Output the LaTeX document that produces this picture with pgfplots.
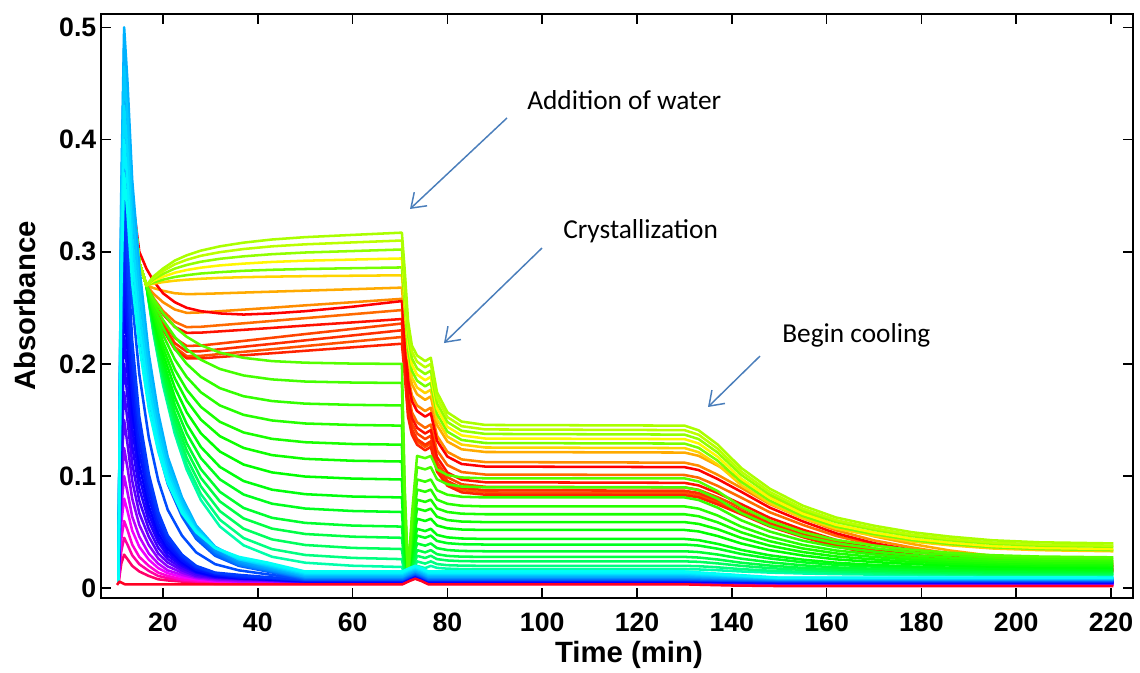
\documentclass[border=0pt]{standalone}
\usepackage{pgfplots}
\usepackage{pgfplotstable}
\pgfplotsset{compat=1.18}
\usetikzlibrary{arrows.meta}
\usepackage{fontspec}
\setmainfont{Liberation Sans}
\newfontfamily\calibri{Carlito}

\definecolor{arrowblue}{RGB}{74,126,187}
% upper yellow-green group
\definecolor{cu1}{Hsb}{80,1,1}
\definecolor{cu2}{Hsb}{76,1,1}
\definecolor{cu3}{Hsb}{86,1,1}
\definecolor{cu4}{Hsb}{58,1,1}
\definecolor{cu5}{Hsb}{92,1,1}
\definecolor{cu6}{Hsb}{50,1,1}
% orange / red group
\definecolor{cr1}{Hsb}{40,1,1}
\definecolor{cr2}{Hsb}{0,1,1}
\definecolor{cr3}{Hsb}{33,1,1}
\definecolor{cr4}{Hsb}{25,1,1}
\definecolor{cr5}{Hsb}{4,1,1}
\definecolor{cr6}{Hsb}{16,1,1}
\definecolor{cr7}{Hsb}{11,1,1}
\definecolor{cr8}{Hsb}{19,1,1}
\definecolor{cr9}{Hsb}{8,1,1}
% lower green group
\definecolor{cg1}{Hsb}{100,1,1}
\definecolor{cg2}{Hsb}{104,1,1}
\definecolor{cg3}{Hsb}{108,1,1}
\definecolor{cg4}{Hsb}{111,1,1}
\definecolor{cg5}{Hsb}{114,1,1}
\definecolor{cg6}{Hsb}{117,1,1}
\definecolor{cg7}{Hsb}{120,1,1}
\definecolor{cg8}{Hsb}{123,1,1}
\definecolor{cg9}{Hsb}{127,1,1}
\definecolor{cg10}{Hsb}{131,1,1}
\definecolor{cg11}{Hsb}{136,1,1}
\definecolor{cg12}{Hsb}{142,1,1}
\definecolor{cg13}{Hsb}{150,1,1}
\definecolor{cg14}{Hsb}{160,1,1}
% blue spike group
\definecolor{cb1}{Hsb}{335,1,1}
\definecolor{cb2}{Hsb}{310,1,1}
\definecolor{cb3}{Hsb}{285,1,1}
\definecolor{cb4}{Hsb}{262,1,1}
\definecolor{cb5}{Hsb}{248,1,1}
\definecolor{cb6}{Hsb}{240,1,1}
\definecolor{cb7}{Hsb}{233,1,1}
\definecolor{cb8}{Hsb}{226,1,1}
\definecolor{cb9}{Hsb}{219,1,1}
\definecolor{cb10}{Hsb}{212,1,1}
\definecolor{cb11}{Hsb}{205,1,1}
\definecolor{cb12}{Hsb}{198,1,1}
\definecolor{cb13}{Hsb}{188,1,1}
\definecolor{cb14}{Hsb}{178,1,1}
\definecolor{cm1}{Hsb}{322,1,1}
\definecolor{cm2}{Hsb}{297,1,1}
\definecolor{cm3}{Hsb}{273,1,1}
\definecolor{cm4}{Hsb}{255,1,1}
\definecolor{cm5}{Hsb}{244,1,1}
\definecolor{cm6}{Hsb}{236,1,1}
\definecolor{cm7}{Hsb}{229,1,1}
\definecolor{cm8}{Hsb}{222,1,1}
\definecolor{cm9}{Hsb}{215,1,1}
\definecolor{cm10}{Hsb}{208,1,1}
\definecolor{cm11}{Hsb}{201,1,1}
\definecolor{cm12}{Hsb}{193,1,1}
\definecolor{cm13}{Hsb}{183,1,1}
\definecolor{cbase}{Hsb}{352,1,1}

\pgfplotstableread{
x u1 u2 u3 u4 u5 u6
10.6 0.004 0.004 0.004 0.004 0.004 0.004
11.8 0.44 0.44 0.44 0.44 0.44 0.44
13.5 0.35 0.35 0.35 0.35 0.35 0.35
15 0.29 0.29 0.29 0.29 0.29 0.29
16.5 0.27 0.27 0.27 0.27 0.27 0.27
18 0.2780 0.2768 0.2754 0.2741 0.2727 0.2715
20 0.2850 0.2828 0.2802 0.2777 0.2751 0.2729
22.5 0.2921 0.2888 0.2850 0.2813 0.2775 0.2742
25 0.2968 0.2928 0.2882 0.2837 0.2791 0.2751
28 0.3010 0.2964 0.2911 0.2858 0.2806 0.2759
32 0.3048 0.2996 0.2937 0.2878 0.2818 0.2767
37 0.3081 0.3024 0.2959 0.2894 0.2830 0.2773
43 0.3109 0.3048 0.2978 0.2909 0.2839 0.2778
50 0.3130 0.3066 0.2993 0.2920 0.2846 0.2782
60 0.3150 0.3083 0.3006 0.2930 0.2853 0.2786
70.4 0.317 0.310 0.302 0.294 0.286 0.279
71.0 0.2833 0.2767 0.2693 0.2620 0.2548 0.2481
71.7 0.2383 0.2323 0.2257 0.2194 0.2132 0.2069
72.5 0.2165 0.2110 0.2050 0.1995 0.1940 0.1880
73.6 0.2075 0.2020 0.1960 0.1905 0.1850 0.1790
75.3 0.2025 0.1970 0.1910 0.1855 0.1800 0.1740
76.5 0.2055 0.2000 0.1940 0.1885 0.1830 0.1770
77.8 0.1748 0.1700 0.1650 0.1603 0.1555 0.1505
80 0.1569 0.1526 0.1482 0.1439 0.1396 0.1352
83 0.1486 0.1445 0.1404 0.1363 0.1322 0.1281
88 0.1456 0.1416 0.1376 0.1335 0.1295 0.1255
130 0.145 0.141 0.137 0.133 0.129 0.125
133 0.1408 0.1369 0.1330 0.1291 0.1252 0.1213
137 0.1282 0.1245 0.1210 0.1173 0.1138 0.1103
142 0.1072 0.1039 0.1010 0.0977 0.0948 0.0919
148 0.0888 0.0859 0.0835 0.0806 0.0782 0.0758
155 0.0736 0.0710 0.0690 0.0664 0.0644 0.0624
162 0.0631 0.0607 0.0590 0.0566 0.0549 0.0532
170 0.0558 0.0535 0.0520 0.0497 0.0483 0.0468
178 0.0500 0.0478 0.0465 0.0443 0.0430 0.0417
186 0.0461 0.0440 0.0428 0.0407 0.0395 0.0383
195 0.0428 0.0408 0.0397 0.0376 0.0366 0.0355
205 0.0410 0.0390 0.0380 0.0360 0.0350 0.0340
220.5 0.040 0.038 0.037 0.035 0.034 0.033
}\tabU

\pgfplotstableread{
x r1 r2 r3 r4 r5 r6 r7 r8 r9
10.6 0.004 0.004 0.004 0.004 0.004 0.004 0.004 0.004 0.004
11.8 0.44 0.44 0.44 0.44 0.44 0.44 0.44 0.44 0.44
13.5 0.35 0.35 0.35 0.35 0.35 0.35 0.35 0.35 0.35
15 0.29 0.30 0.29 0.29 0.29 0.29 0.29 0.29 0.29
16.5 0.27 0.285 0.27 0.27 0.27 0.27 0.27 0.27 0.27
18 0.2676 0.274 0.2625 0.2586 0.2571 0.2535 0.2520 0.2508 0.2502
20 0.2652 0.263 0.2550 0.2472 0.2442 0.2370 0.2340 0.2316 0.2304
22.5 0.2630 0.255 0.2485 0.2375 0.2330 0.2230 0.2185 0.2150 0.2130
25 0.2622 0.250 0.2455 0.2328 0.2277 0.2160 0.2110 0.2070 0.2050
28 0.2624 0.247 0.2459 0.2331 0.2279 0.2164 0.2113 0.2072 0.2049
32 0.2629 0.245 0.2470 0.2345 0.2290 0.2182 0.2131 0.2088 0.2062
37 0.2636 0.244 0.2484 0.2362 0.2304 0.2205 0.2153 0.2108 0.2077
43 0.2644 0.245 0.2501 0.2383 0.2321 0.2233 0.2179 0.2131 0.2095
50 0.2653 0.247 0.2522 0.2408 0.2342 0.2266 0.2210 0.2159 0.2117
60 0.2666 0.251 0.2550 0.2443 0.2370 0.2312 0.2254 0.2199 0.2148
70.4 0.268 0.256 0.258 0.248 0.240 0.236 0.230 0.224 0.218
71.0 0.2386 0.2257 0.2286 0.2171 0.2100 0.2057 0.2000 0.1952 0.1901
71.7 0.1994 0.1853 0.1894 0.1759 0.1700 0.1653 0.1600 0.1568 0.1529
72.5 0.182 0.167 0.172 0.157 0.152 0.147 0.142 0.140 0.137
73.6 0.173 0.158 0.163 0.148 0.143 0.138 0.133 0.131 0.128
75.3 0.168 0.153 0.158 0.143 0.138 0.133 0.128 0.126 0.123
76.5 0.171 0.156 0.161 0.146 0.141 0.136 0.131 0.129 0.126
77.8 0.1455 0.1315 0.1360 0.1230 0.1170 0.1125 0.1085 0.1065 0.1040
80 0.1308 0.1174 0.1216 0.1098 0.1032 0.0990 0.0956 0.0936 0.0914
83 0.1239 0.1108 0.1149 0.1036 0.0968 0.0927 0.0896 0.0876 0.0855
88 0.1215 0.1085 0.1125 0.1014 0.0945 0.0905 0.0874 0.0854 0.0834
130 0.121 0.108 0.112 0.101 0.094 0.090 0.087 0.085 0.083
133 0.1181 0.1054 0.1093 0.0986 0.0917 0.0878 0.0849 0.0829 0.0810
137 0.1094 0.0974 0.1012 0.0913 0.0849 0.0812 0.0785 0.0767 0.0748
142 0.0968 0.0860 0.0895 0.0808 0.0750 0.0718 0.0693 0.0678 0.0660
148 0.0812 0.0719 0.0751 0.0678 0.0628 0.0601 0.0579 0.0567 0.0551
155 0.0677 0.0596 0.0625 0.0565 0.0522 0.0499 0.0480 0.0471 0.0456
162 0.0560 0.0490 0.0517 0.0467 0.0431 0.0411 0.0394 0.0388 0.0374
170 0.0463 0.0402 0.0427 0.0386 0.0355 0.0338 0.0323 0.0319 0.0306
178 0.0395 0.0341 0.0364 0.0330 0.0302 0.0287 0.0274 0.0270 0.0259
186 0.0337 0.0288 0.0310 0.0281 0.0256 0.0243 0.0231 0.0229 0.0218
195 0.0289 0.0244 0.0265 0.0240 0.0218 0.0207 0.0196 0.0195 0.0184
205 0.0259 0.0218 0.0238 0.0216 0.0195 0.0185 0.0174 0.0174 0.0164
220.5 0.024 0.020 0.022 0.020 0.018 0.017 0.016 0.016 0.015
}\tabR

\pgfplotstableread{
x g1 g2 g3 g4 g5 g6 g7 g8 g9 g10 g11 g12 g13 g14
10.6 0.004 0.004 0.004 0.004 0.004 0.004 0.004 0.004 0.004 0.004 0.004 0.004 0.004 0.004
11.8 0.44 0.44 0.44 0.44 0.44 0.44 0.44 0.44 0.44 0.44 0.44 0.44 0.44 0.44
13.5 0.35 0.35 0.35 0.35 0.35 0.35 0.35 0.35 0.35 0.35 0.35 0.35 0.35 0.35
15 0.29 0.29 0.29 0.29 0.29 0.29 0.29 0.29 0.29 0.29 0.29 0.29 0.29 0.29
16.5 0.27 0.27 0.27 0.27 0.27 0.27 0.27 0.27 0.27 0.27 0.27 0.27 0.27 0.27
18 0.2580 0.2551 0.2517 0.2486 0.2457 0.2432 0.2404 0.2377 0.2355 0.2332 0.2315 0.2298 0.2283 0.2271
20 0.2452 0.2392 0.2321 0.2258 0.2197 0.2144 0.2088 0.2031 0.1985 0.1939 0.1904 0.1868 0.1836 0.1811
22.5 0.2330 0.2241 0.2135 0.2040 0.1950 0.1871 0.1787 0.1702 0.1633 0.1565 0.1512 0.1459 0.1412 0.1375
25 0.2242 0.2131 0.2000 0.1883 0.1771 0.1673 0.1569 0.1464 0.1379 0.1294 0.1229 0.1163 0.1104 0.1058
28 0.2166 0.2037 0.1884 0.1747 0.1617 0.1503 0.1381 0.1259 0.1160 0.1061 0.0984 0.0908 0.0840 0.0786
32 0.2101 0.1955 0.1784 0.1630 0.1484 0.1356 0.1219 0.1082 0.0971 0.0860 0.0774 0.0688 0.0611 0.0551
37 0.2054 0.1897 0.1712 0.1546 0.1389 0.1251 0.1103 0.0956 0.0836 0.0716 0.0623 0.0531 0.0448 0.0383
43 0.2025 0.1862 0.1669 0.1496 0.1332 0.1187 0.1033 0.0879 0.0754 0.0628 0.0532 0.0436 0.0349 0.0281
50 0.2011 0.1843 0.1646 0.1469 0.1302 0.1154 0.0996 0.0839 0.0711 0.0583 0.0484 0.0386 0.0297 0.0228
60 0.2003 0.1834 0.1635 0.1456 0.1286 0.1137 0.0978 0.0818 0.0689 0.0559 0.0460 0.0360 0.0271 0.0201
70.4 0.200 0.183 0.163 0.145 0.128 0.113 0.097 0.081 0.068 0.055 0.045 0.035 0.026 0.019
71.0 0.0900 0.0824 0.0734 0.0653 0.0576 0.0509 0.0437 0.0365 0.0306 0.0248 0.0203 0.0158 0.0125 0.0120
71.7 0.012 0.012 0.012 0.012 0.012 0.012 0.012 0.012 0.012 0.012 0.012 0.012 0.012 0.012
72.5 0.0649 0.0594 0.0534 0.0484 0.0435 0.0391 0.0341 0.0292 0.0259 0.0220 0.0187 0.0160 0.0132 0.0120
73.6 0.118 0.108 0.097 0.088 0.079 0.071 0.062 0.053 0.047 0.040 0.034 0.029 0.024 0.020
75.3 0.116 0.106 0.095 0.086 0.077 0.069 0.060 0.051 0.045 0.038 0.032 0.027 0.022 0.018
76.5 0.118 0.108 0.097 0.088 0.079 0.071 0.062 0.053 0.047 0.040 0.034 0.029 0.024 0.020
77.8 0.1060 0.0972 0.0874 0.0790 0.0712 0.0638 0.0560 0.0476 0.0422 0.0358 0.0304 0.0260 0.0216 0.0182
80 0.1010 0.0927 0.0834 0.0753 0.0680 0.0608 0.0535 0.0454 0.0402 0.0341 0.0289 0.0248 0.0206 0.0175
83 0.0988 0.0907 0.0816 0.0736 0.0665 0.0595 0.0524 0.0444 0.0393 0.0333 0.0282 0.0242 0.0202 0.0171
88 0.098 0.090 0.081 0.073 0.066 0.059 0.052 0.044 0.039 0.033 0.028 0.024 0.020 0.017
130 0.098 0.090 0.081 0.073 0.066 0.059 0.052 0.044 0.039 0.033 0.028 0.024 0.020 0.017
133 0.0952 0.0874 0.0787 0.0710 0.0642 0.0574 0.0507 0.0429 0.0381 0.0323 0.0274 0.0236 0.0197 0.0168
137 0.0867 0.0798 0.0719 0.0649 0.0588 0.0527 0.0466 0.0396 0.0353 0.0301 0.0257 0.0222 0.0187 0.0161
142 0.0727 0.0670 0.0606 0.0549 0.0499 0.0449 0.0399 0.0342 0.0306 0.0264 0.0228 0.0200 0.0171 0.0150
148 0.0603 0.0558 0.0506 0.0460 0.0420 0.0380 0.0340 0.0294 0.0266 0.0232 0.0203 0.0180 0.0157 0.0140
155 0.0501 0.0465 0.0424 0.0387 0.0355 0.0323 0.0292 0.0255 0.0232 0.0205 0.0182 0.0164 0.0146 0.0132
162 0.0431 0.0401 0.0367 0.0337 0.0311 0.0284 0.0258 0.0228 0.0209 0.0186 0.0168 0.0153 0.0138 0.0126
170 0.0382 0.0356 0.0327 0.0302 0.0279 0.0257 0.0234 0.0209 0.0193 0.0174 0.0158 0.0145 0.0132 0.0122
178 0.0343 0.0321 0.0296 0.0274 0.0255 0.0235 0.0216 0.0194 0.0180 0.0163 0.0150 0.0139 0.0128 0.0119
186 0.0317 0.0297 0.0275 0.0255 0.0238 0.0221 0.0203 0.0184 0.0171 0.0157 0.0144 0.0134 0.0125 0.0117
195 0.0295 0.0277 0.0257 0.0240 0.0224 0.0209 0.0193 0.0175 0.0164 0.0151 0.0140 0.0131 0.0122 0.0116
205 0.0283 0.0266 0.0248 0.0231 0.0216 0.0202 0.0187 0.0171 0.0160 0.0148 0.0137 0.0129 0.0121 0.0115
220.5 0.0276 0.0260 0.0242 0.0226 0.0212 0.0198 0.0184 0.0168 0.0158 0.0146 0.0136 0.0128 0.0120 0.0114
}\tabG

\pgfplotstableread{
x b1 b2 b3 b4 b5 b6 b7 b8 b9 b10 b11 b12 b13 b14
10.6 0.004 0.004 0.004 0.004 0.004 0.004 0.004 0.004 0.004 0.004 0.004 0.004 0.004 0.004
11.2 0.022 0.044 0.072 0.107 0.142 0.177 0.213 0.248 0.283 0.312 0.333 0.355 0.306 0.265
11.8 0.03 0.06 0.10 0.15 0.20 0.25 0.30 0.35 0.40 0.44 0.47 0.50 0.43 0.37
12.5 0.026 0.052 0.086 0.129 0.171 0.214 0.256 0.299 0.361 0.397 0.424 0.452 0.389 0.335
13.5 0.020 0.039 0.064 0.096 0.127 0.158 0.189 0.221 0.291 0.320 0.342 0.364 0.314 0.272
15 0.015 0.028 0.046 0.067 0.089 0.110 0.131 0.153 0.229 0.252 0.269 0.287 0.248 0.216
17 0.011 0.020 0.031 0.046 0.060 0.073 0.088 0.102 0.167 0.183 0.196 0.209 0.182 0.160
19 0.008 0.014 0.022 0.031 0.041 0.049 0.058 0.068 0.124 0.136 0.146 0.156 0.137 0.122
21 0.007 0.011 0.016 0.023 0.029 0.035 0.041 0.047 0.093 0.102 0.109 0.117 0.104 0.094
24 0.006 0.008 0.012 0.016 0.020 0.023 0.027 0.030 0.064 0.070 0.075 0.081 0.073 0.067
27 0.005 0.007 0.009 0.011 0.014 0.015 0.018 0.020 0.044 0.048 0.052 0.056 0.052 0.050
31 0.004 0.006 0.007 0.009 0.010 0.011 0.013 0.014 0.029 0.032 0.034 0.037 0.036 0.036
36 0.004 0.005 0.006 0.008 0.009 0.009 0.010 0.012 0.020 0.021 0.023 0.026 0.026 0.028
42 0.004 0.005 0.006 0.007 0.008 0.008 0.009 0.010 0.015 0.016 0.017 0.019 0.021 0.023
50 0.004 0.0045 0.005 0.0055 0.006 0.0065 0.007 0.0075 0.008 0.009 0.010 0.011 0.013 0.015
70.5 0.004 0.0045 0.005 0.0055 0.006 0.0065 0.007 0.0075 0.008 0.009 0.010 0.011 0.013 0.015
72 0.007 0.0075 0.008 0.0085 0.009 0.0095 0.010 0.0105 0.011 0.012 0.013 0.014 0.016 0.018
73.2 0.009 0.0095 0.010 0.0105 0.011 0.0115 0.012 0.0125 0.013 0.014 0.015 0.016 0.018 0.020
74.5 0.007 0.0075 0.008 0.0085 0.009 0.0095 0.010 0.0105 0.011 0.012 0.013 0.014 0.016 0.018
76 0.004 0.0045 0.005 0.0055 0.006 0.0065 0.007 0.0075 0.008 0.009 0.010 0.011 0.013 0.015
130 0.004 0.0045 0.005 0.0055 0.006 0.0065 0.007 0.0075 0.008 0.009 0.010 0.011 0.013 0.015
140 0.0035 0.004 0.0045 0.005 0.0055 0.006 0.0065 0.007 0.0075 0.00825 0.009 0.00975 0.011 0.01225
150 0.003 0.0035 0.004 0.0045 0.005 0.0055 0.006 0.0065 0.007 0.0075 0.008 0.0085 0.009 0.0095
220.5 0.003 0.0035 0.004 0.0045 0.005 0.0055 0.006 0.0065 0.007 0.0075 0.008 0.0085 0.009 0.0095
}\tabB

\pgfplotstableread{
x m1 m2 m3 m4 m5 m6 m7 m8 m9 m10 m11 m12 m13
10.6 0.004 0.004 0.004 0.004 0.004 0.004 0.004 0.004 0.004 0.004 0.004 0.004 0.004
11.2 0.033 0.058 0.0895 0.1245 0.1595 0.195 0.2305 0.2655 0.2975 0.3225 0.344 0.3305 0.2855
11.8 0.045 0.08 0.125 0.175 0.225 0.275 0.325 0.375 0.42 0.455 0.485 0.465 0.40
12.5 0.039 0.069 0.1075 0.15 0.1925 0.235 0.2775 0.33 0.379 0.4105 0.438 0.4205 0.362
13.5 0.0295 0.0515 0.08 0.1115 0.1425 0.1735 0.205 0.256 0.3055 0.331 0.353 0.339 0.293
15 0.0215 0.037 0.0565 0.078 0.0995 0.1205 0.142 0.191 0.2405 0.2605 0.278 0.2675 0.232
17 0.0155 0.0255 0.0385 0.053 0.0665 0.0805 0.095 0.1345 0.175 0.1895 0.2025 0.1955 0.171
19 0.011 0.018 0.0265 0.036 0.045 0.0535 0.063 0.096 0.13 0.141 0.151 0.1465 0.1295
21 0.009 0.0135 0.0195 0.026 0.032 0.038 0.044 0.07 0.0975 0.1055 0.113 0.1105 0.099
24 0.007 0.01 0.014 0.018 0.0215 0.025 0.0285 0.047 0.067 0.0725 0.078 0.077 0.07
27 0.006 0.008 0.01 0.0125 0.0145 0.0165 0.019 0.032 0.046 0.05 0.054 0.054 0.051
31 0.005 0.0065 0.008 0.0095 0.0105 0.012 0.0135 0.0215 0.0305 0.033 0.0355 0.0365 0.036
36 0.0045 0.0055 0.007 0.0085 0.009 0.0095 0.011 0.016 0.0205 0.022 0.0245 0.026 0.027
42 0.0045 0.0055 0.0065 0.0075 0.008 0.0085 0.0095 0.0125 0.0155 0.0165 0.018 0.020 0.022
50 0.00425 0.00475 0.00525 0.00575 0.00625 0.00675 0.00725 0.00775 0.0085 0.0095 0.0105 0.012 0.014
70.5 0.00425 0.00475 0.00525 0.00575 0.00625 0.00675 0.00725 0.00775 0.0085 0.0095 0.0105 0.012 0.014
72 0.00725 0.00775 0.00825 0.00875 0.00925 0.00975 0.01025 0.01075 0.0115 0.0125 0.0135 0.015 0.017
73.2 0.00925 0.00975 0.01025 0.01075 0.01125 0.01175 0.01225 0.01275 0.0135 0.0145 0.0155 0.017 0.019
74.5 0.00725 0.00775 0.00825 0.00875 0.00925 0.00975 0.01025 0.01075 0.0115 0.0125 0.0135 0.015 0.017
76 0.00425 0.00475 0.00525 0.00575 0.00625 0.00675 0.00725 0.00775 0.0085 0.0095 0.0105 0.012 0.014
130 0.00425 0.00475 0.00525 0.00575 0.00625 0.00675 0.00725 0.00775 0.0085 0.0095 0.0105 0.012 0.014
140 0.00375 0.00425 0.00475 0.00525 0.00575 0.00625 0.00675 0.00725 0.007875 0.008625 0.009375 0.010375 0.011625
150 0.00325 0.00375 0.00425 0.00475 0.00525 0.00575 0.00625 0.00675 0.00725 0.00775 0.00825 0.00875 0.00925
220.5 0.00325 0.00375 0.00425 0.00475 0.00525 0.00575 0.00625 0.00675 0.00725 0.00775 0.00825 0.00875 0.00925
}\tabM

\pgfplotstableread{
x y
10.3 0.003
10.8 0.006
12 0.0035
70.5 0.0035
72 0.0065
73.2 0.0085
74.5 0.0065
76 0.0035
130 0.0035
140 0.0025
150 0.002
220.5 0.002
}\tabBase

\begin{document}
\begin{tikzpicture}
\useasboundingbox (-75.75pt,-55.5pt) rectangle (779.25pt,448.5pt);
\begin{axis}[
  at={(0,0)}, anchor=south west,
  scale only axis, width=774pt, height=438pt,
  xmin=6.92, xmax=224.64, ymin=-0.00865, ymax=0.5119,
  xtick={20,40,...,220}, ytick={0,0.1,0.2,0.3,0.4,0.5},
  tick align=inside, major tick length=7.5pt,
  axis line style={line width=1.2pt},
  tick style={line width=1.2pt, black},
  ticklabel style={font=\fontsize{20}{20}\selectfont\bfseries},
  xticklabel style={yshift=-8pt},
  /pgf/number format/assume math mode=true,
  xlabel={Time (min)}, ylabel={Absorbance},
  label style={font=\fontsize{22}{22}\selectfont\bfseries},
  xlabel style={at={(axis description cs:0.5116,-0.110)}, anchor=base},
  ylabel style={at={(axis description cs:-0.0736,0.5)}, anchor=center},
  no markers,
  every axis plot/.append style={line width=1.9pt, line join=round},
]
% orange / red group
\addplot[cr1] table[x=x,y=r1]{\tabR};
\addplot[cr3] table[x=x,y=r3]{\tabR};
\addplot[cr4] table[x=x,y=r4]{\tabR};
\addplot[cr6] table[x=x,y=r6]{\tabR};
\addplot[cr8] table[x=x,y=r8]{\tabR};
\addplot[cr7] table[x=x,y=r7]{\tabR};
\addplot[cr9] table[x=x,y=r9]{\tabR};
\addplot[cr5] table[x=x,y=r5]{\tabR};
\addplot[cr2] table[x=x,y=r2]{\tabR};
% lower green group
\addplot[cg14] table[x=x,y=g14]{\tabG};
\addplot[cg13] table[x=x,y=g13]{\tabG};
\addplot[cg12] table[x=x,y=g12]{\tabG};
\addplot[cg11] table[x=x,y=g11]{\tabG};
\addplot[cg10] table[x=x,y=g10]{\tabG};
\addplot[cg9] table[x=x,y=g9]{\tabG};
\addplot[cg8] table[x=x,y=g8]{\tabG};
\addplot[cg7] table[x=x,y=g7]{\tabG};
\addplot[cg6] table[x=x,y=g6]{\tabG};
\addplot[cg5] table[x=x,y=g5]{\tabG};
\addplot[cg4] table[x=x,y=g4]{\tabG};
\addplot[cg3] table[x=x,y=g3]{\tabG};
\addplot[cg2] table[x=x,y=g2]{\tabG};
\addplot[cg1] table[x=x,y=g1]{\tabG};
% upper yellow-green group
\addplot[cu6] table[x=x,y=u6]{\tabU};
\addplot[cu5] table[x=x,y=u5]{\tabU};
\addplot[cu4] table[x=x,y=u4]{\tabU};
\addplot[cu3] table[x=x,y=u3]{\tabU};
\addplot[cu2] table[x=x,y=u2]{\tabU};
\addplot[cu1] table[x=x,y=u1]{\tabU};
% blue spike group
\addplot[cb1] table[x=x,y=b1]{\tabB};
\addplot[cm1] table[x=x,y=m1]{\tabM};
\addplot[cb2] table[x=x,y=b2]{\tabB};
\addplot[cm2] table[x=x,y=m2]{\tabM};
\addplot[cb3] table[x=x,y=b3]{\tabB};
\addplot[cm3] table[x=x,y=m3]{\tabM};
\addplot[cb4] table[x=x,y=b4]{\tabB};
\addplot[cm4] table[x=x,y=m4]{\tabM};
\addplot[cb5] table[x=x,y=b5]{\tabB};
\addplot[cm5] table[x=x,y=m5]{\tabM};
\addplot[cb6] table[x=x,y=b6]{\tabB};
\addplot[cm6] table[x=x,y=m6]{\tabM};
\addplot[cb7] table[x=x,y=b7]{\tabB};
\addplot[cm7] table[x=x,y=m7]{\tabM};
\addplot[cb8] table[x=x,y=b8]{\tabB};
\addplot[cm8] table[x=x,y=m8]{\tabM};
\addplot[cb9] table[x=x,y=b9]{\tabB};
\addplot[cm9] table[x=x,y=m9]{\tabM};
\addplot[cb10] table[x=x,y=b10]{\tabB};
\addplot[cm10] table[x=x,y=m10]{\tabM};
\addplot[cb11] table[x=x,y=b11]{\tabB};
\addplot[cm11] table[x=x,y=m11]{\tabM};
\addplot[cb12] table[x=x,y=b12]{\tabB};
\addplot[cm12] table[x=x,y=m12]{\tabM};
\addplot[cb13] table[x=x,y=b13]{\tabB};
\addplot[cm13] table[x=x,y=m13]{\tabM};
\addplot[cb14] table[x=x,y=b14]{\tabB};
\addplot[cbase] table[x=x,y=y]{\tabBase};

% annotations
\draw[arrowblue, line width=1.1pt, -{Straight Barb[length=10pt,width=14pt]}]
  (axis cs:92.57,0.4192) -- (axis cs:72.11,0.3381);
\draw[arrowblue, line width=1.1pt, -{Straight Barb[length=10pt,width=14pt]}]
  (axis cs:99.96,0.3033) -- (axis cs:79.28,0.2186);
\draw[arrowblue, line width=1.1pt, -{Straight Barb[length=10pt,width=14pt]}]
  (axis cs:145.95,0.207) -- (axis cs:134.98,0.1616);
\node[anchor=base west, inner sep=0pt, font=\calibri\fontsize{20.5}{20.5}\selectfont]
  at (axis cs:96.79,0.4272) {Addition of water};
\node[anchor=base west, inner sep=0pt, font=\calibri\fontsize{20.5}{20.5}\selectfont]
  at (axis cs:104.39,0.3122) {Crystallization};
\node[anchor=base west, inner sep=0pt, font=\calibri\fontsize{20.5}{20.5}\selectfont]
  at (axis cs:150.59,0.2195) {Begin cooling};
\end{axis}
\end{tikzpicture}
\end{document}
